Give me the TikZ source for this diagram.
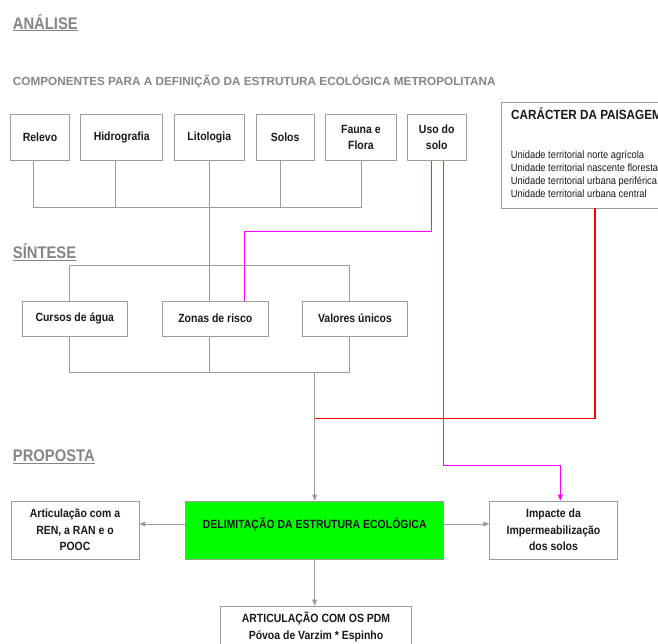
\documentclass[tikz,border=0pt]{standalone}
\usepackage{fontspec}
\setmainfont{Liberation Sans}
\newfontfamily\narrowfont[FakeStretch=0.88]{Liberation Sans}
\usetikzlibrary{arrows.meta}
\definecolor{linegray}{HTML}{9C9C9C}
\definecolor{titlegray}{HTML}{858585}
\definecolor{boxgreen}{HTML}{00FF00}
\definecolor{lilac}{HTML}{FF00FF}
\tikzset{
  box/.style={draw=linegray, line width=0.8pt, inner sep=0pt, align=center,
    text=black!90, font=\narrowfont\bfseries\fontsize{11.9}{16.5}\selectfont},
  link/.style={draw=linegray, line width=0.8pt},
  arr/.style={link, -{Triangle[length=6pt,width=5pt]}},
  heading/.style={anchor=base west, inner sep=0pt, text=titlegray,
    font=\narrowfont\bfseries\fontsize{16.8}{18}\selectfont},
  listline/.style={anchor=base west, inner sep=0pt, text=black!90,
    font=\narrowfont\fontsize{10.6}{13}\selectfont},
}
\begin{document}
\begin{tikzpicture}[x=1pt,y=-1pt]
        \useasboundingbox (0,0) rectangle (658,643);
        \clip (0,0) rectangle (658,643);
        % titles
        \node[heading] (analise) at (12.7,29) {\underline{ANÁLISE}};
        \node[heading, font=\bfseries\fontsize{11.75}{13}\selectfont] (componentes) at (12.7,85.5)
          {COMPONENTES PARA A DEFINIÇÃO DA ESTRUTURA ECOLÓGICA METROPOLITANA};
        \node[heading] (sintese) at (12.7,258.3) {\underline{SÍNTESE}};
        \node[heading] (proposta) at (12.7,461.7) {\underline{PROPOSTA}};
        % components
        \node[box, minimum width=58.6pt, minimum height=46.7pt] (relevo) at (40,137.3) {Relevo};
        \node[box, minimum width=82pt, minimum height=46.7pt] (hidro) at (121.7,137.3) {Hidrografia};
        \node[box, minimum width=70pt, minimum height=46.7pt] (lito) at (209.3,137.3) {Litologia};
        \node[box, minimum width=58.3pt, minimum height=46.7pt] (solos) at (285.2,137.3) {Solos};
        \node[box, minimum width=70.3pt, minimum height=46.7pt] (fauna) at (360.9,137.3) {Fauna e\\Flora};
        \node[box, minimum width=58.7pt, minimum height=46.7pt] (uso) at (436.7,137.3) {Uso do\\solo};
        \node[box, minimum width=219pt, minimum height=105.3pt] (carac) at (610.5,155.3) {};
        \node[anchor=base west, inner sep=0pt, text=black!90,
          font=\narrowfont\bfseries\fontsize{13.3}{15}\selectfont] (caractit) at (511,119.3) {CARÁCTER DA PAISAGEM};
        \foreach \txt [count=\i] in {Unidade territorial norte agrícola, Unidade territorial nascente floresta,
            Unidade territorial urbana periférica, Unidade territorial urbana central}
          \node[listline] (unit\i) at (510.7,145+13*\i) {\txt};
        % synthesis
        \node[box, minimum width=105pt, minimum height=35pt] (cursos) at (74.8,318.5) {Cursos de água};
        \node[box, minimum width=106pt, minimum height=35pt] (zonas) at (215.3,318.5) {Zonas de risco};
        \node[box, minimum width=105.4pt, minimum height=35pt] (valores) at (355,318.5) {Valores únicos};
        % proposal
        \node[box, fill=boxgreen, minimum width=258pt, minimum height=58pt] (delim) at (314.7,530) {};
        \node[box, draw=none] (delimtxt) at (314.7,524) {DELIMITAÇÃO DA ESTRUTURA ECOLÓGICA};
        \node[box, minimum width=128pt, minimum height=58pt] (artic) at (75,530) {Articulação com a\\REN, a RAN e o\\POOC};
        \node[box, minimum width=127.6pt, minimum height=58pt] (impacte) at (553.5,530) {Impacte da\\Impermeabilização\\dos solos};
        \node[box, anchor=north, minimum width=190.6pt, minimum height=41.6pt] (pdm) at (316,605.7)
          {ARTICULAÇÃO COM OS PDM\\Póvoa de Varzim * Espinho};
        % analysis bracket
        \draw[link] ([xshift=-6.7pt]relevo.south) -- ++(0,46.6) -| (fauna.south);
        \draw[link] ([xshift=-6.7pt]hidro.south) -- ++(0,46.6);
        \draw[link] ([xshift=-5.2pt]solos.south) -- ++(0,46.6);
        \draw[link] (lito.south) -- (lito.south |- zonas.north);
        % synthesis brackets
        \draw[link] ([xshift=-5.5pt]cursos.north) -- ++(0,-35) -| ([xshift=-5.5pt]valores.north);
        \draw[link] ([xshift=-5.5pt]cursos.south) -- ++(0,35.7) -| ([xshift=-5.5pt]valores.south);
        \draw[link] (lito.south |- zonas.south) -- ++(0,35.7);
        \coordinate (synout) at (314.7,371.7);
        \coordinate (redjoin) at (314.7,418.3);
        \draw[arr] (synout) -- (delim.north);
        % land use and landscape links
        \draw[lilac, line width=0.9pt] ([xshift=-5pt]uso.south) -- ++(0,70.3) -| ([xshift=29pt]zonas.north);
        \draw[lilac, line width=0.9pt, -{Triangle[length=6pt,width=5pt]}]
          ([xshift=6.6pt]uso.south) -- ++(0,304.3) -| ([xshift=6.8pt]impacte.north);
        \draw[red, line width=1.3pt] ([xshift=-15.5pt]carac.south) |- (redjoin);
        % outputs
        \coordinate (lefttip) at ([yshift=6pt]artic.east);
        \coordinate (righttip) at ([yshift=6pt]impacte.west);
        \draw[arr] ([yshift=6pt]delim.west) -- (lefttip);
        \draw[arr] ([yshift=6pt]delim.east) -- (righttip);
        \draw[arr] (delim.south) -- (delim.south |- pdm.north);
      \end{tikzpicture}
\end{document}
